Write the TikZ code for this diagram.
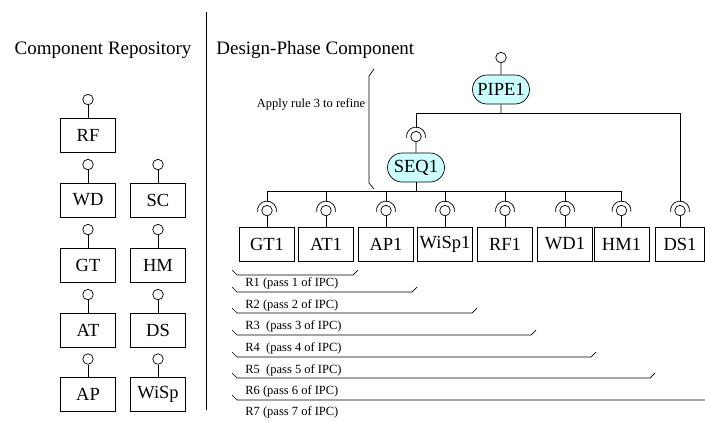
\documentclass[tikz,border=0pt]{standalone}
\usepackage{fontspec}
\setmainfont{Liberation Serif}
\usetikzlibrary{positioning, shapes.misc}
\definecolor{seqcyan}{RGB}{204, 255, 255}

\begin{document}
\begin{tikzpicture}[
    x=1pt, y=-1pt,
    line width=0.7pt,
    comp/.style={rectangle, draw=black, minimum width=55pt, minimum height=34pt, inner sep=0pt, font=\fontsize{18.5}{20}\selectfont},
    conn/.style={rounded rectangle, draw=black, fill=seqcyan, minimum width=59pt, minimum height=29pt, inner sep=1pt, font=\fontsize{18.5}{20}\selectfont},
    ball/.style={circle, draw=black, minimum size=10.5pt, inner sep=0pt},
    title/.style={font=\fontsize{19}{21}\selectfont, inner sep=0pt},
    note/.style={font=\fontsize{12.5}{14}\selectfont, inner sep=0pt, anchor=west}
]
    \useasboundingbox (0,0) rectangle (705,421);

    % titles and divider
    \node[title] (repo) at (103,50) {Component Repository};
    \node[title, anchor=west] (design) at (216,50) {Design-Phase Component};
    \draw (206,12) -- (206,410);

    % component repository
    \node[comp] (rf) at (88,135) {RF};
    \node[comp] (wd) at (88,200) {WD};
    \node[comp] (sc) at (158,200) {SC};
    \node[comp] (gt) at (88,265) {GT};
    \node[comp] (hm) at (158,265) {HM};
    \node[comp] (at) at (88,330) {AT};
    \node[comp] (ds) at (158,330) {DS};
    \node[comp] (ap) at (88,394.5) {AP};
    \node[comp] (wisp) at (158,394.5) {WiSp};
    \foreach \c in {rf, wd, sc, gt, hm, at, ds, ap, wisp} {
        \node[ball, above=12.5pt of \c] (\c b) {};
        \draw (\c b) -- (\c);
    }

    % design-phase components
    \node[comp] (gt1) at (267,244) {GT1};
    \node[comp] (at1) at (326,244) {AT1};
    \node[comp] (ap1) at (386,244) {AP1};
    \node[comp] (wisp1) at (445,244) {WiSp1};
    \node[comp] (rf1) at (505,244) {RF1};
    \node[comp] (wd1) at (565,244) {WD1};
    \node[comp] (hm1) at (621.5,244) {HM1};
    \node[comp, minimum width=49pt] (ds1) at (680,244) {DS1};

    \node[conn] (seq1) at (416,167.5) {SEQ1};
    \node[conn] (pipe1) at (501,89.5) {PIPE1};
    \node[ball, above=11.5pt of pipe1] (pipe1b) {};
    \draw (pipe1b) -- (pipe1);

    % required interfaces
    \foreach \c in {gt1, at1, ap1, wisp1, rf1, wd1, hm1, ds1, seq1} {
        \node[ball, above=10.5pt of \c] (\c s) {};
        \draw (\c s) -- (\c);
        \draw ([shift={(172:9.5)}]\c s.center) arc[start angle=172, end angle=368, radius=9.5];
        \coordinate (\c t) at ([yshift=9.5pt]\c s.center);
    }

    % SEQ1 bus
    \coordinate (seqbus) at (416,191.5);
    \draw (seq1) -- (seqbus);
    \draw (gt1t |- seqbus) -- (hm1t |- seqbus);
    \foreach \c in {gt1, at1, ap1, wisp1, rf1, wd1, hm1}
        \draw (\c t) -- (\c t |- seqbus);

    % PIPE1 bus
    \coordinate (pipebus) at (501,113);
    \draw (pipe1) -- (pipebus);
    \draw (seq1t) |- (ds1t |- pipebus) -- (ds1t);

    % refinement bracket
    \draw (374,69) -- (369,76) -- (369,183) -- (374,189);
    \node[note, anchor=east] (rule3) at (365.5,104) {Apply rule 3 to refine};

    % integration passes
    \foreach \yy/\xe in {275/358, 292/417, 313/477, 335/536, 357/596, 378/655}
        \draw (232,\yy-5) -- (237,\yy) -- (\xe-5,\yy) -- (\xe,\yy-5);
    \draw (232,395) -- (237,400) -- (706,400);
    \foreach \n/\ly/\gap in {1/283.5/{ }, 2/305.5/{ }, 3/326.5/{\ \ }, 4/348.5/{\ \ }, 5/370/{\ \ }, 6/391/{ }, 7/412.5/{ }}
        \node[note] (r\n) at (245,\ly) {R\n\gap(pass \n{} of IPC)};
\end{tikzpicture}
\end{document}
